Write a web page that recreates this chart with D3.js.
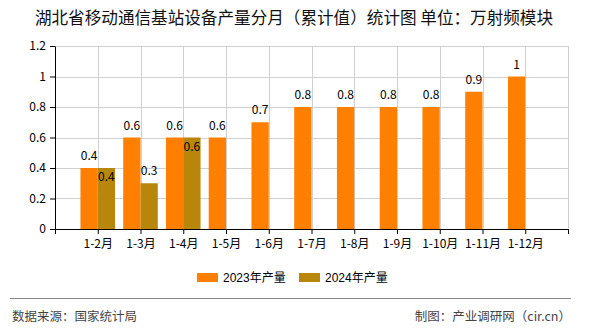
<!DOCTYPE html>
<html><head><meta charset="utf-8">
<script src="https://cdn.jsdelivr.net/npm/d3@7"></script>
<style>
html,body{margin:0;padding:0;background:#fff;}
svg{display:block;font-family:"Noto Sans CJK SC","Noto Sans",sans-serif;}
</style></head>
<body>
<svg id="c" width="590" height="330"></svg>
<script>
const categories = ["1-2月","1-3月","1-4月","1-5月","1-6月","1-7月","1-8月","1-9月","1-10月","1-11月","1-12月"];
const series2023 = [0.4,0.6,0.6,0.6,0.7,0.8,0.8,0.8,0.8,0.9,1];
const series2024 = [0.4,0.3,0.6,null,null,null,null,null,null,null,null];
const yTicks = [0,0.2,0.4,0.6,0.8,1,1.2];
const seriesNames = ["2023年产量","2024年产量"];
const colors = ["#FF8000","#B8860B"];
const titleText = "湖北省移动通信基站设备产量分月（累计值）统计图 单位：万射频模块";
const sourceText = "数据来源：国家统计局";
const makerText = "制图：产业调研网（cir.cn）";

(function(){
const svg = d3.select("#c");
const pl = 55, pr = 568, pt = 46, pb = 229;
const x = d3.scaleLinear().domain([0, categories.length + 1]).range([pl, pr]);
const y = d3.scaleLinear().domain([0, 1.2]).range([pb, pt]);
const barW = 17.3;

// title
svg.append("text").attr("x", 294).attr("y", 24).attr("text-anchor","middle")
  .attr("font-size", "16.6px").attr("fill","#111").text(titleText);

// grid
const g = svg.append("g");
g.selectAll("line.h").data(yTicks.filter(d=>d>0)).join("line")
  .attr("x1", pl).attr("x2", pr).attr("y1", d=>Math.round(y(d))+0.5).attr("y2", d=>Math.round(y(d))+0.5)
  .attr("stroke","#d0d0d0").attr("stroke-width",1);
g.selectAll("line.v").data(d3.range(1, categories.length + 2)).join("line")
  .attr("x1", d=>Math.round(x(d))+0.5).attr("x2", d=>Math.round(x(d))+0.5).attr("y1", pt).attr("y2", pb)
  .attr("stroke","#d0d0d0").attr("stroke-width",1);

// bars
const data = categories.map((c,i)=>({c, i, v: [series2023[i], series2024[i]]}));
[0,1].forEach(s=>{
  const d = data.filter(e=>e.v[s]!=null);
  svg.append("g").selectAll("rect").data(d).join("rect")
    .attr("x", e=> s===0 ? x(e.i+1)-barW : x(e.i+1))
    .attr("width", barW)
    .attr("y", e=>y(e.v[s]))
    .attr("height", e=>pb - y(e.v[s]))
    .attr("fill", colors[s]);
});

// labels
const fmt = v => String(+v.toFixed(1));
[0,1].forEach(s=>{
  const d = data.filter(e=>e.v[s]!=null);
  svg.append("g").selectAll("text").data(d).join("text")
    .attr("x", e=> s===0 ? x(e.i+1)-barW/2 : x(e.i+1)+barW/2)
    .attr("y", e=>{
      const ty = y(e.v[s]);
      if (s===1 && e.v[0]!=null && Math.abs(y(e.v[0]) - ty) < 14) return ty + 13;
      return ty - 8;
    })
    .attr("text-anchor","middle").attr("font-size","12px").attr("fill","#000")
    .text(e=>fmt(e.v[s]));
});

// axes
const xAxis = d3.axisBottom(x).tickValues(d3.range(0, categories.length + 2))
  .tickFormat(i => (i>=1 && i<=categories.length) ? categories[i-1] : "")
  .tickSize(5).tickSizeOuter(0);
const xa = svg.append("g").attr("transform",`translate(0,${pb})`).call(xAxis);
xa.selectAll("text").attr("font-size","12px").attr("fill","#000").attr("dy","0.9em")
  .attr("font-family",'"Noto Sans CJK SC",sans-serif');
xa.select(".domain").attr("stroke","#000");
xa.selectAll(".tick line").attr("stroke","#000");

const yAxis = d3.axisLeft(y).tickValues(yTicks).tickFormat(fmt).tickSize(5).tickSizeOuter(0);
const ya = svg.append("g").attr("transform",`translate(${pl},0)`).call(yAxis);
ya.selectAll("text").attr("font-size","12px").attr("fill","#000").attr("x",-9)
  .attr("font-family",'"Noto Sans CJK SC",sans-serif');
ya.select(".domain").attr("stroke","#000");
ya.selectAll(".tick line").attr("stroke","#000");

// legend
const legX = [197, 299];
seriesNames.forEach((n,i)=>{
  svg.append("rect").attr("x", legX[i]).attr("y", 273).attr("width", 21).attr("height", 9).attr("fill", colors[i]);
  svg.append("text").attr("x", legX[i]+26).attr("y", 282).attr("font-size","12px")
    .attr("font-family",'"Liberation Sans","Noto Sans CJK SC",sans-serif').attr("fill","#000").text(n);
});

// footer
svg.append("line").attr("x1",10).attr("x2",571).attr("y1",298.5).attr("y2",298.5)
  .attr("stroke","#888").attr("stroke-width",1);
svg.append("text").attr("x",12).attr("y",321).attr("font-size","12.5px").attr("fill","#444").text(sourceText);
svg.append("text").attr("x",571).attr("y",321).attr("text-anchor","end").attr("font-size","12.5px").attr("fill","#444").text(makerText);
})();
</script>
</body></html>
